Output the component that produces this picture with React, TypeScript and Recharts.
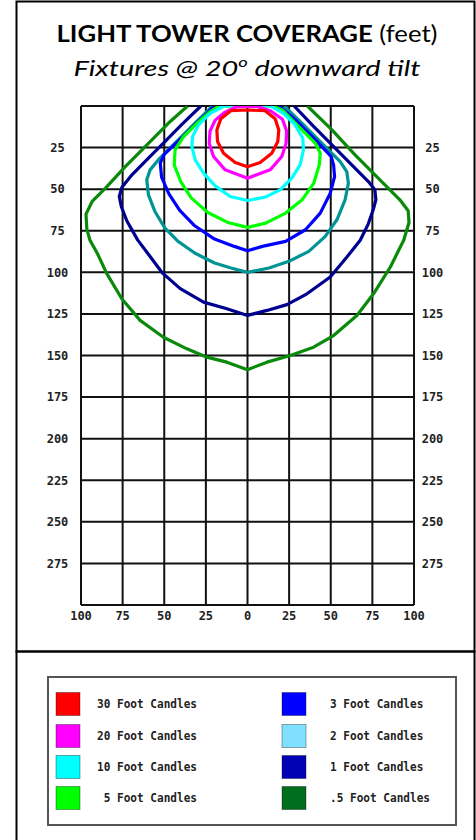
import React from 'react';
import { ScatterChart, Scatter, XAxis, YAxis, CartesianGrid } from 'recharts';

// Axis ticks (feet)
const X_TICKS = [-100, -75, -50, -25, 0, 25, 50, 75, 100];
const Y_TICKS = [0, 25, 50, 75, 100, 125, 150, 175, 200, 225, 250, 275, 300];

// Iso-footcandle contours, [x feet (left -, right +), y feet downrange]
const fc05: [number, number][] = [
  [-36, 0], [-47.6, 10.4], [-59.5, 22.4], [-73.4, 36.4], [-85.3, 49.4], [-93.3, 57.4], [-97, 65], [-96.5, 74],
  [-94.6, 80.7], [-90, 89], [-84.5, 100.8], [-75.5, 115.9], [-64.5, 128.9], [-50.5, 139], [-36.4, 146],
  [-24.4, 151], [-12.4, 154], [0, 158.5], [11.7, 154], [25.7, 150], [39.7, 145], [51.7, 138], [65.7, 125.9],
  [75.7, 112.9], [85.8, 96.8], [93.8, 80.7], [97, 70], [96.5, 63], [91.5, 56.4], [78.5, 43.4], [64.6, 29.4],
  [50.7, 14.4], [36, 0],
];
const fc1: [number, number][] = [
  [-28, 0], [-39.7, 11.4], [-49.6, 21.4], [-59.5, 31.4], [-69.4, 41.4], [-75.4, 48.8], [-77, 54.4], [-75.8, 60.4],
  [-72.5, 69], [-66, 80.5], [-58.5, 90.5], [-51, 100.5], [-40.4, 109.8], [-26.4, 117.9], [-12.4, 121.9], [0, 125.9],
  [11.7, 122.9], [23.7, 119.4], [35.7, 112.9], [49.7, 102.8], [59.7, 90.8], [67.7, 80.7], [72.5, 71], [75.5, 62.4],
  [77.1, 56.4], [76.5, 50.4], [72.6, 45.4], [62.6, 35.4], [50.7, 23.4], [38.8, 11.4], [28, 0],
];
const fc2: [number, number][] = [
  [-21, 0], [-31.7, 10.4], [-43.7, 22.4], [-53.6, 32.4], [-58.5, 38.4], [-60.5, 44.4], [-59.5, 53.4], [-55.6, 63.4],
  [-49.6, 73.4], [-41.7, 81.4], [-31.7, 88.4], [-19.8, 94.4], [-9.9, 97.4], [0, 100], [12.9, 97.4], [24.9, 93.4],
  [36.8, 87.4], [46.7, 78.4], [53.7, 68.4], [58.6, 56.4], [60.6, 46.4], [59.6, 39.4], [55.7, 33.4], [44.7, 22.4],
  [32.8, 10.4], [22, 0],
];
const fc3: [number, number][] = [
  [-20, 0], [-23.8, 4], [-30.8, 10.4], [-38.7, 18.4], [-44.6, 24], [-50, 29], [-52.4, 34.4], [-51.6, 42.8],
  [-47.2, 52.8], [-40.7, 62.8], [-31.7, 72], [-19.8, 80], [-7.9, 84.4], [0, 87], [8.9, 84.4], [22.9, 81.4],
  [34.8, 74.4], [43.7, 64.4], [49.7, 52.4], [52.3, 42.4], [51.7, 35.4], [50.3, 30.4], [40.8, 20.4], [28.8, 8.4],
  [19, 0],
];
const fc5: [number, number][] = [
  [-17, 0], [-22.4, 3.4], [-30.4, 10.4], [-38.4, 18.4], [-43.5, 26.4], [-44, 35.4], [-40.1, 45.4], [-33.7, 55.4],
  [-23.8, 64], [-11.9, 70], [0, 73], [10.9, 70.4], [22.9, 64.4], [32.8, 56.4], [39.8, 46.4], [43.1, 35.4],
  [43.7, 28.4], [40.8, 22.4], [34.8, 16.4], [26.8, 8.4], [20.9, 2.4], [15, 0], [-17, 0],
];
const fc10: [number, number][] = [
  [-14, 0], [-22.4, 4.4], [-29.4, 11.4], [-33, 18.4], [-33.4, 24.4], [-31.4, 32.4], [-26.4, 40.4], [-19.4, 48],
  [-10.4, 54.4], [0, 56.8], [10.6, 54.8], [19.6, 50.4], [26.6, 43.4], [31.6, 35.4], [33.6, 26.4], [33.2, 19.4],
  [28.6, 11.4], [21.6, 4.4], [14, 0], [-14, 0],
];
const fc20: [number, number][] = [
  [0, 0.3], [-7, 0.6], [-14, 4], [-19.4, 8.5], [-22.5, 15], [-23, 22.4], [-20.4, 30.4], [-13.4, 38.4], [0, 43.4],
  [13.6, 38.4], [20.6, 30.4], [23.2, 22.4], [23.5, 15], [21, 8], [14, 3], [6, 0.3], [0, 0.3],
];
const fc30: [number, number][] = [
  [0, 2.4], [-10, 2.8], [-16, 7.6], [-18.4, 14.4], [-18, 21.4], [-14.4, 28.4], [-7.4, 34], [0, 36.5],
  [7.6, 34], [14.6, 28.4], [18.2, 21.4], [18.8, 14.4], [16.6, 7.6], [10.6, 2.8], [0, 2.4],
];

// Series drawn outermost first
const SERIES_NAMES = ['.5 Foot Candles', '1 Foot Candles', '2 Foot Candles', '3 Foot Candles', '5 Foot Candles', '10 Foot Candles', '20 Foot Candles', '30 Foot Candles'];
const SERIES_POINTS = [fc05, fc1, fc2, fc3, fc5, fc10, fc20, fc30];
const LINE_COLORS = ['#0a8a0a', '#000090', '#009494', '#0000ff', '#00ff00', '#00ffff', '#ff00ff', '#ff0000'];

// Legend (two columns)
const LEGEND_LEFT = ['30 Foot Candles', '20 Foot Candles', '10 Foot Candles', ' 5 Foot Candles'];
const LEGEND_LEFT_COLORS = ['#ff0000', '#ff00ff', '#00ffff', '#00ff00'];
const LEGEND_RIGHT = ['3 Foot Candles', '2 Foot Candles', '1 Foot Candles', '.5 Foot Candles'];
const LEGEND_RIGHT_COLORS = ['#0000ff', '#80e0ff', '#0000b4', '#006e1e'];
const LEGEND_ROWS_Y = [704, 736, 767, 798];

const tickFont = { fontFamily: 'DejaVu Sans Mono', fontSize: 12, fontWeight: 'bold', fill: '#222' };
const yFmt = (v: number) => (v === 0 || v === 300 ? '' : String(v));

function LegendLabel({ x, y, label }: { x: number; y: number; label: string }) {
  return (
    <text x={x} y={y} dominantBaseline="central" fontFamily="DejaVu Sans Mono" fontWeight="bold" fontSize={11.5}
      fill="#222" textLength={label.length * 6.67} lengthAdjust="spacingAndGlyphs" style={{ whiteSpace: 'pre' }}>
      {label}
    </text>
  );
}

export default function App() {
  return (
    <div style={{ position: 'absolute', left: 0, top: 0, width: 476, height: 840, background: '#fff', overflow: 'hidden' }}>
      <svg width={476} height={840} style={{ position: 'absolute', left: 0, top: 0 }}>
        <rect x={16.5} y={1.5} width={458} height={650} fill="none" stroke="#000" strokeWidth={2} />
        <rect x={16.5} y={651.5} width={458} height={200} fill="none" stroke="#000" strokeWidth={2} />
        <text x={247} y={41.5} textAnchor="middle" fontFamily="Lato" fontSize={23.5} fill="#000"
          textLength={381} lengthAdjust="spacingAndGlyphs">
          <tspan fontWeight="bold">LIGHT TOWER COVERAGE</tspan>
          <tspan> (feet)</tspan>
        </text>
        <text x={247} y={75.5} textAnchor="middle" fontFamily="Lato" fontStyle="italic" fontSize={22} fill="#000"
          textLength={347} lengthAdjust="spacingAndGlyphs">
          <tspan>Fixtures @ 20</tspan>
          <tspan fontSize={14} dy={-9}>o</tspan>
          <tspan dy={9}> downward tilt</tspan>
        </text>
        <rect x={48} y={677} width={408} height={148} fill="none" stroke="#555" strokeWidth={2} />
        {LEGEND_LEFT.map((label, i) => (
          <g key={'l' + i}>
            <rect x={56} y={LEGEND_ROWS_Y[i] - 11.5} width={24} height={23} fill={LEGEND_LEFT_COLORS[i]} stroke="rgba(0,0,0,0.35)" strokeWidth={1} />
            <LegendLabel x={97} y={LEGEND_ROWS_Y[i]} label={label} />
          </g>
        ))}
        {LEGEND_RIGHT.map((label, i) => (
          <g key={'r' + i}>
            <rect x={282} y={LEGEND_ROWS_Y[i] - 11.5} width={24} height={23} fill={LEGEND_RIGHT_COLORS[i]} stroke="rgba(0,0,0,0.35)" strokeWidth={1} />
            <LegendLabel x={330} y={LEGEND_ROWS_Y[i]} label={label} />
          </g>
        ))}
      </svg>
      <div style={{ position: 'absolute', left: 0, top: 0 }}>
        <ScatterChart width={476} height={640} margin={{ top: 106, right: 0, bottom: 5, left: 0 }}>
          <CartesianGrid stroke="#111" strokeWidth={2} xAxisId="x" yAxisId="left" />
          <XAxis xAxisId="x" dataKey="x" type="number" domain={[-100, 100]} ticks={X_TICKS} interval={0}
            allowDataOverflow tickFormatter={(v: number) => String(Math.abs(v))} axisLine={false} tickLine={false}
            tickSize={6} tickMargin={0} height={30} tick={tickFont} />
          <YAxis yAxisId="left" dataKey="y" type="number" domain={[0, 300]} reversed ticks={Y_TICKS} interval={0}
            allowDataOverflow tickFormatter={yFmt} axisLine={false} tickLine={false} width={81}
            tickSize={6} tickMargin={17.5} tick={{ ...tickFont, textAnchor: 'middle' }} />
          <YAxis yAxisId="right" orientation="right" type="number" domain={[0, 300]} reversed ticks={Y_TICKS} interval={0}
            allowDataOverflow tickFormatter={yFmt} axisLine={false} tickLine={false} width={62}
            tickSize={6} tickMargin={12.5} tick={{ ...tickFont, textAnchor: 'middle' }} />
          {SERIES_POINTS.map((pts, i) => (
            <Scatter key={SERIES_NAMES[i]} name={SERIES_NAMES[i]} xAxisId="x" yAxisId="left"
              data={pts.map(([x, y]) => ({ x, y }))} fill={LINE_COLORS[i]}
              line={{ stroke: LINE_COLORS[i], strokeWidth: 3.2, strokeLinejoin: 'round' }} lineType="joint"
              shape={() => <g />} isAnimationActive={false} legendType="none" />
          ))}
        </ScatterChart>
      </div>
    </div>
  );
}
